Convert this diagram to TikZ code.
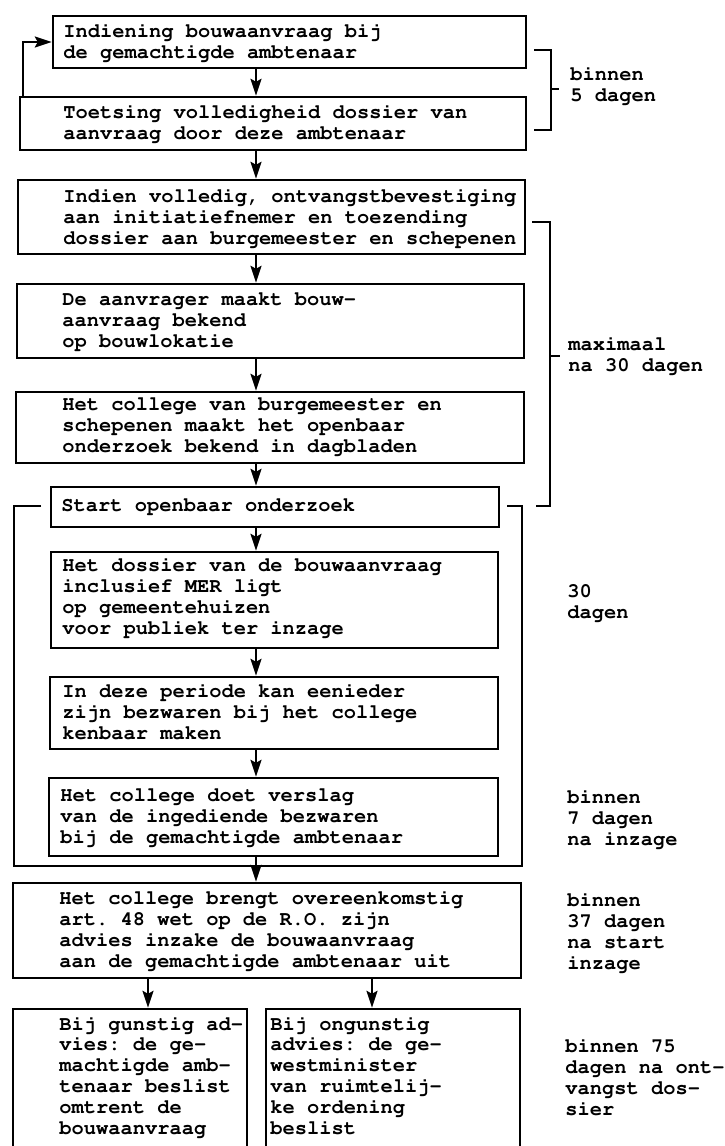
\documentclass[tikz,border=0pt]{standalone}
\usepackage[T1]{fontenc}
\newcommand\typewriter{\fontencoding{T1}\fontfamily{pcr}\bfseries\frenchspacing}
\usetikzlibrary{arrows.meta,fit}

\tikzset{
  box/.style={draw,line width=1.2pt,inner sep=0pt},
  txt/.style={anchor=base west,inner sep=0pt,align=left,
    font=\typewriter\fontsize{10.2pt}{10.4pt}\selectfont},
  flow/.style={line width=1.2pt,-{Stealth[length=8.5pt,width=5.5pt,inset=1.5pt]}},
  brace/.style={line width=1.2pt}
}

\begin{document}
\begin{tikzpicture}[x=0.5pt,y=-0.5pt]
  \useasboundingbox (0,0) rectangle (724,1146);
  \clip (0,0) rectangle (724,1146);
  % columns for the arrows
  \coordinate (ax) at (256,0);
  \coordinate (al) at (148,0);
  \coordinate (ar) at (372,0);

  % the boxes, coordinates in pixels of the scan
  \node (b1) [box,fit={(53,16) (526,68)}] {};
  \node (b2) [box,fit={(20,97) (526,150)}] {};
  \node (b3) [box,fit={(18,180) (525,254)}] {};
  \node (b4) [box,fit={(17,284) (524,358)}] {};
  \node (b5) [box,fit={(16,392) (524,463)}] {};
  \node (b6) [box,fit={(51,487) (499,527)}] {};
  \node (b7) [box,fit={(51,552) (498,648)}] {};
  \node (b8) [box,fit={(50,677) (498,749)}] {};
  \node (b9) [box,fit={(49,778) (498,856)}] {};
  \node (b10) [box,fit={(13,883) (521,978)}] {};
  \node (b11) [box,fit={(13,1009) (247,1152)}] {};
  \node (b12) [box,fit={(266,1009) (520,1152)}] {};

  % texts, placed at the baseline of their last line
  \node (t1) [txt] at (63,58) {Indiening bouwaanvraag bij\\de gemachtigde ambtenaar};
  \node (t2) [txt] at (63,139) {Toetsing volledigheid dossier van\\aanvraag door deze ambtenaar};
  \node (t3) [txt] at (63,244) {Indien volledig, ontvangstbevestiging\\aan initiatiefnemer en toezending\\dossier aan burgemeester en schepenen};
  \node (t4) [txt] at (62,347) {De aanvrager maakt bouw-\\aanvraag bekend\\op bouwlokatie};
  \node (t5) [txt] at (62,452) {Het college van burgemeester en\\schepenen maakt het openbaar\\onderzoek bekend in dagbladen};
  \node (t6) [txt] at (61,511) {Start openbaar onderzoek};
  \node (t7) [txt] at (62,634) {Het dossier van de bouwaanvraag\\inclusief MER ligt\\op gemeentehuizen\\voor publiek ter inzage};
  \node (t8) [txt] at (62,739) {In deze periode kan eenieder\\zijn bezwaren bij het college\\kenbaar maken};
  \node (t9) [txt] at (60,843) {Het college doet verslag\\van de ingediende bezwaren\\bij de gemachtigde ambtenaar};
  \node (t10) [txt] at (59,967) {Het college brengt overeenkomstig\\art. 48 wet op de R.O. zijn\\advies inzake de bouwaanvraag\\aan de gemachtigde ambtenaar uit};
  \node (t11) [txt] at (59,1134) {Bij gunstig ad-\\vies: de ge-\\machtigde amb-\\tenaar beslist\\omtrent de\\bouwaanvraag};
  \node (t12) [txt] at (270,1134) {Bij ongunstig\\advies: de ge-\\westminister\\van ruimtelij-\\ke ordening\\beslist};

  % time limits on the right
  \node (r1) [txt] at (570,101) {binnen\\5 dagen};
  \node (r2) [txt] at (568,371) {maximaal\\na 30 dagen};
  \node (r3) [txt] at (567,618) {30\\dagen};
  \node (r4) [txt] at (567,845) {binnen\\7 dagen\\na inzage};
  \node (r5) [txt] at (567,969) {binnen\\37 dagen\\na start\\inzage};
  \node (r6) [txt] at (565,1115) {binnen 75\\dagen na ont-\\vangst dos-\\sier};

  % arrows
  \draw [flow] ([xshift=2pt]b2.north west) |- (b1.west);
  \draw [flow] (b1.south -| ax) -- (b2.north -| ax);
  \draw [flow] (b2.south -| ax) -- (b3.north -| ax);
  \draw [flow] (b3.south -| ax) -- (b4.north -| ax);
  \draw [flow] (b4.south -| ax) -- (b5.north -| ax);
  \draw [flow] (b5.south -| ax) -- (b6.north -| ax);
  \draw [flow] (b6.south -| ax) -- (b7.north -| ax);
  \draw [flow] (b7.south -| ax) -- (b8.north -| ax);
  \draw [flow] (b8.south -| ax) -- (b9.north -| ax);
  \draw [flow] (b9.south -| ax) -- (b10.north -| ax);
  \draw [flow] (b10.south -| al) -- (b11.north -| al);
  \draw [flow] (b10.south -| ar) -- (b12.north -| ar);

  % brackets and the frame round the public inquiry
  \draw [brace] (534,50) -- (551,50) -- (551,130) -- (534,130);
  \draw [brace] (551,89) -- (559,89);
  \draw [brace] (532,222) -- (550,222) -- (550,506) -- (536,506);
  \draw [brace] (550,356) -- (560,356);
  \draw [brace] (41,506) -- (14,506) -- (14,866) -- (522,866) -- (522,506) -- (507,506);
\end{tikzpicture}
\end{document}
